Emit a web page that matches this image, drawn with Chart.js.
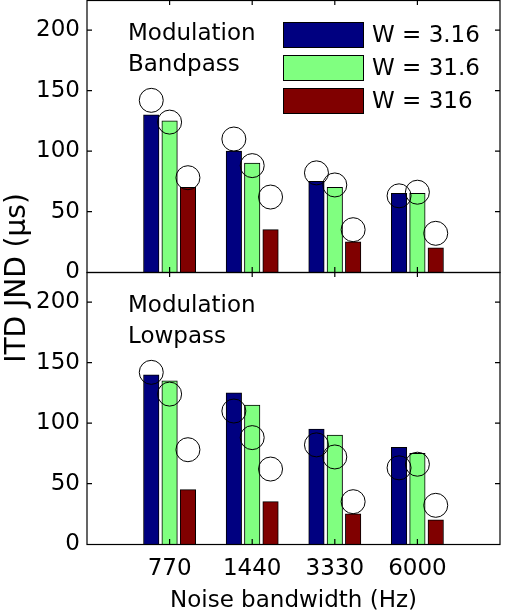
<!DOCTYPE html>
<html>
<head>
<meta charset="utf-8">
<script src="https://cdn.jsdelivr.net/npm/chart.js@4.4.1/dist/chart.umd.min.js"></script>
<style>
  html, body { margin: 0; padding: 0; background: #fff; }
  #wrap { position: relative; width: 511px; height: 615px; }
</style>
</head>
<body>
<div id="wrap"><canvas id="chart" width="511" height="615"></canvas></div>
<script>
const categories = ["770", "1440", "3330", "6000"];
const seriesNames = ["W = 3.16", "W = 31.6", "W = 316"];
const seriesColors = ["#000080", "#80FF80", "#800000"];

// top panel, modulation bandpass (one row per W)
const bandpassBars = [
  [130, 100, 75, 65],
  [125, 90, 70, 65],
  [70, 35, 25, 20],
];

// bottom panel, modulation lowpass
const lowpassBars = [
  [140, 125, 95, 80],
  [135, 115, 90, 75],
  [45, 35, 25, 20],
];

// open circles, same in both panels
const circleValues = [
  [142, 110, 82, 63],
  [124, 88, 72, 66],
  [78, 62, 35, 32],
];

const font = {family: "'DejaVu Sans', sans-serif", size: 23};
const slot = 0.222; // distance between bars of a group, in category units

function barSets(rows, xId, yId) {
  return rows.map((vals, k) => ({
    type: "bar",
    label: seriesNames[k],
    grouped: false,
    data: vals.map((v, i) => ({x: i + 1 + (k - 1) * slot, y: v})),
    backgroundColor: seriesColors[k],
    borderColor: "#000",
    borderWidth: 1,
    barThickness: 15.5,
    xAxisID: xId,
    yAxisID: yId,
    order: 1,
  }));
}

function circleSets(xId, yId) {
  return circleValues.map((vals, k) => ({
    type: "scatter",
    data: vals.map((v, i) => ({x: i + 1 + (k - 1) * slot, y: v})),
    pointRadius: 12,
    pointHoverRadius: 12,
    pointBorderColor: "#000",
    pointBorderWidth: 1,
    pointBackgroundColor: "rgba(0,0,0,0)",
    showLine: false,
    xAxisID: xId,
    yAxisID: yId,
    order: 0,
  }));
}

function yAxis() {
  return {
    type: "linear",
    position: "left",
    stack: "panels",
    stackWeight: 1,
    min: 0,
    max: 225,
    ticks: {stepSize: 50, includeBounds: false, padding: 7, color: "#000", font: font},
    grid: {display: false, drawTicks: false},
    border: {display: false},
    afterFit(scale) {
      scale.width = 87;
      scale.paddingTop = 0;
      scale.paddingBottom = 0;
    },
  };
}

// frame, inward ticks, legend and panel texts
const decorations = {
  id: "decorations",
  afterDraw(chart) {
    const {ctx} = chart;
    const {xBot, yTop, yBot} = chart.scales;
    const left = xBot.left;
    const right = xBot.right;

    ctx.save();
    ctx.strokeStyle = "#000";
    ctx.lineWidth = 1.2;

    [yTop, yBot].forEach((y) => {
      ctx.strokeRect(left, y.top + 0.5, right - left, y.bottom - y.top);
      ctx.beginPath();
      y.ticks.forEach((t) => {
        if (t.value === 0) return;
        const py = y.getPixelForValue(t.value);
        ctx.moveTo(left, py);
        ctx.lineTo(left + 5, py);
        ctx.moveTo(right, py);
        ctx.lineTo(right - 5, py);
      });
      xBot.ticks.forEach((t) => {
        if (t.value === 0 || t.value === 5) return;
        const px = xBot.getPixelForValue(t.value);
        ctx.moveTo(px, y.top);
        ctx.lineTo(px, y.top + 5);
        ctx.moveTo(px, y.bottom);
        ctx.lineTo(px, y.bottom - 5);
      });
      ctx.stroke();
    });

    ctx.fillStyle = "#000";
    ctx.font = "23px 'DejaVu Sans', sans-serif";
    ctx.textAlign = "left";
    ctx.textBaseline = "alphabetic";
    ctx.fillText("Modulation", left + 41, yTop.top + 40);
    ctx.fillText("Bandpass", left + 41, yTop.top + 71);
    ctx.fillText("Modulation", left + 41, yBot.top + 40);
    ctx.fillText("Lowpass", left + 41, yBot.top + 71);

    // legend
    ctx.lineWidth = 1;
    seriesNames.forEach((name, k) => {
      const bx = right - 217;
      const by = yTop.top + 22 + 33 * k;
      ctx.fillStyle = seriesColors[k];
      ctx.fillRect(bx, by, 80, 25);
      ctx.strokeRect(bx + 0.5, by + 0.5, 80, 25);
      ctx.fillStyle = "#000";
      ctx.textBaseline = "middle";
      ctx.fillText(name, bx + 89, by + 14);
    });

    // y title across both panels
    ctx.translate(25, 278);
    ctx.rotate(-Math.PI / 2);
    ctx.textAlign = "center";
    ctx.textBaseline = "alphabetic";
    ctx.font = "28px 'DejaVu Sans', sans-serif";
    ctx.fillText("ITD JND (μs)", 0, 0);
    ctx.restore();
  },
};

new Chart(document.getElementById("chart"), {
  type: "bar",
  data: {
    datasets: [
      ...barSets(bandpassBars, "xTop", "yTop"),
      ...circleSets("xTop", "yTop"),
      ...barSets(lowpassBars, "xBot", "yBot"),
      ...circleSets("xBot", "yBot"),
    ],
  },
  options: {
    responsive: false,
    animation: false,
    events: [],
    layout: {autoPadding: false, padding: {top: 0, right: 1, bottom: 0, left: 0}},
    plugins: {legend: {display: false}, tooltip: {enabled: false}},
    scales: {
      // left boxes are laid out in reverse, so the lower panel comes first
      yBot: yAxis(),
      yTop: yAxis(),
      xTop: {type: "linear", display: false, min: 0, max: 5, offset: false, ticks: {stepSize: 1}},
      xBot: {
        type: "linear",
        position: "bottom",
        min: 0,
        max: 5,
        offset: false,
        ticks: {
          stepSize: 1,
          padding: 11,
          color: "#000",
          font: font,
          maxRotation: 0,
          autoSkip: false,
          callback: (v) => categories[v - 1] ?? "",
        },
        grid: {display: false, drawTicks: false},
        border: {display: false},
        title: {display: true, text: "Noise bandwidth (Hz)", color: "#000", font: font, padding: 0},
        afterFit(scale) {
          scale.height = 71;
        },
      },
    },
  },
  plugins: [decorations],
});
</script>
</body>
</html>
